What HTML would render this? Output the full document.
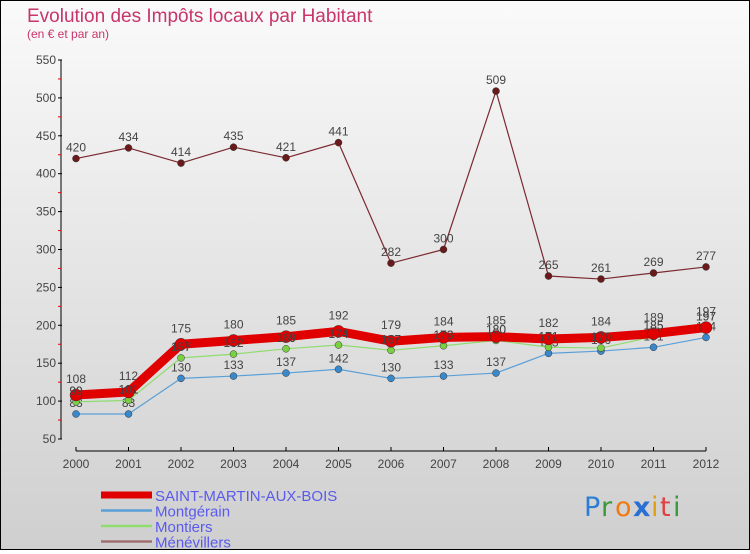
<!DOCTYPE html>
<html><head><meta charset="utf-8"><style>
html,body{margin:0;padding:0}
body{width:750px;height:550px;overflow:hidden;font-family:"Liberation Sans","DejaVu Sans",sans-serif}
#wrap{position:relative;width:748px;height:548px;border:1px solid #000;background:linear-gradient(#fafafa,#cfcfcf)}
</style></head><body>
<div id="wrap">
<svg id="chart" width="748" height="548" viewBox="0 0 748 548" xmlns="http://www.w3.org/2000/svg">
<text x="26" y="21" font-size="19" fill="#c8356a">Evolution des Impôts locaux par Habitant</text>
<text x="26" y="37" font-size="12" fill="#c8356a">(en € et par an)</text>
<g id="axes"></g>
<g id="series"></g>
<g id="legend"></g>
<g font-size="27" font-family="'DejaVu Sans',sans-serif">
<text x="583" y="515" fill="#2a7fd4">P</text><text x="600" y="515" fill="#3a9a3a">r</text><text x="614" y="515" fill="#f07a10">o</text><text x="632" y="515" fill="#2a6fd4" font-weight="bold">x</text><text x="650" y="515" fill="#e0a010">i</text><text x="659" y="515" fill="#e04040">t</text><text x="672" y="515" fill="#3a9a3a">i</text>
</g>
</svg>
</div>
<script>
const years=[2000,2001,2002,2003,2004,2005,2006,2007,2008,2009,2010,2011,2012];
const saintMartin=[108,112,175,180,185,192,179,184,185,182,184,189,197];
const montgerain=[83,83,130,133,137,142,130,133,137,163,166,171,184];
const montiers=[99,101,157,162,169,174,167,173,180,171,170,185,197];
const menevillers=[420,434,414,435,421,441,282,300,509,265,261,269,277];
const yTicks=[50,100,150,200,250,300,350,400,450,500,550];
const seriesNames=["SAINT-MARTIN-AUX-BOIS","Montgérain","Montiers","Ménévillers"];

const NS="http://www.w3.org/2000/svg";
const x=i=>75+i*52.5;
const y=v=>438-(v-50)*0.758;
function mk(tag,attrs,parent,txt){const e=document.createElementNS(NS,tag);for(const k in attrs)e.setAttribute(k,attrs[k]);if(txt!==undefined)e.textContent=txt;parent.appendChild(e);return e;}
const axes=document.getElementById('axes');
let el=mk('line',{x1:60,y1:y(550),x2:60,y2:y(50),stroke:'#000'},axes);


yTicks.forEach(t=>{
  mk('line',{x1:57,y1:y(t),x2:61,y2:y(t),stroke:'#000'},axes);
  if(t<550) mk('line',{x1:57,y1:y(t+25),x2:60,y2:y(t+25),stroke:'#e00'},axes);
  const lb=mk('text',{x:55,y:y(t)+4,'font-size':12,fill:'#444','text-anchor':'end'},axes,t);
  
  
});
el=mk('line',{x1:x(0),y1:450,x2:x(12),y2:450,stroke:'#000'},axes);


years.forEach((yr,i)=>{
  mk('line',{x1:x(i),y1:446,x2:x(i),y2:450,stroke:'#000'},axes);
  const lb=mk('text',{x:x(i),y:467,'font-size':12,fill:'#444','text-anchor':'middle'},axes,yr);
  
  
});
const sg=document.getElementById('series');
function drawSeries(vals,color,width,r,fill,name,labels){
  const g=mk('g',{},sg);
  
  
  const p=mk('polyline',{points:vals.map((v,i)=>x(i)+','+y(v)).join(' '),fill:'none',stroke:color,'stroke-width':width,'stroke-linejoin':'round'},g);
  
  
  vals.forEach((v,i)=>{
    const c=mk('circle',{cx:x(i),cy:y(v),r:r,fill:fill,stroke:'#333','stroke-width':0.5},g);
    
    
    if(labels){
      const t=mk('text',{x:x(i),y:y(v)-7,'font-size':12,fill:'#444','text-anchor':'middle'},g,v);
      
      
    }
  });
}
drawSeries(menevillers,'#7a2a30',1.2,3.5,'#6a1a1a','menevillers-series',true);
drawSeries(montgerain,'#5aa0d8',1.2,3.5,'#3a88cc','montgerain-series',true);
drawSeries(montiers,'#90dc70',1.2,3.5,'#7ad040','montiers-series',true);
drawSeries(saintMartin,'#e00000',9,6,'#e00000','saint-martin-series',false);
// labels overlay
const lg2=mk('g',{},sg);
montiers.forEach((v,i)=>{const t=mk('text',{x:x(i),y:y(v)-7,'font-size':12,fill:'#444','text-anchor':'middle'},lg2,v);});
saintMartin.forEach((v,i)=>{const t=mk('text',{x:x(i),y:y(v)-12,'font-size':12,fill:'#444','text-anchor':'middle'},lg2,v);});
const lg=document.getElementById('legend');
const lcols=['#e00000','#5aa0d8','#90dc70','#a07070'];
const lw=[7,2.5,2.5,2.5];
seriesNames.forEach((n,i)=>{
  const yy=494+i*15.5;
  const ln=mk('line',{x1:100,y1:yy,x2:151,y2:yy,stroke:lcols[i],'stroke-width':lw[i]},lg);
  
  
  const t=mk('text',{x:154,y:yy+6,'font-size':15,fill:'#5a5aee'},lg,n);
  
  
});
</script>
</body></html>
